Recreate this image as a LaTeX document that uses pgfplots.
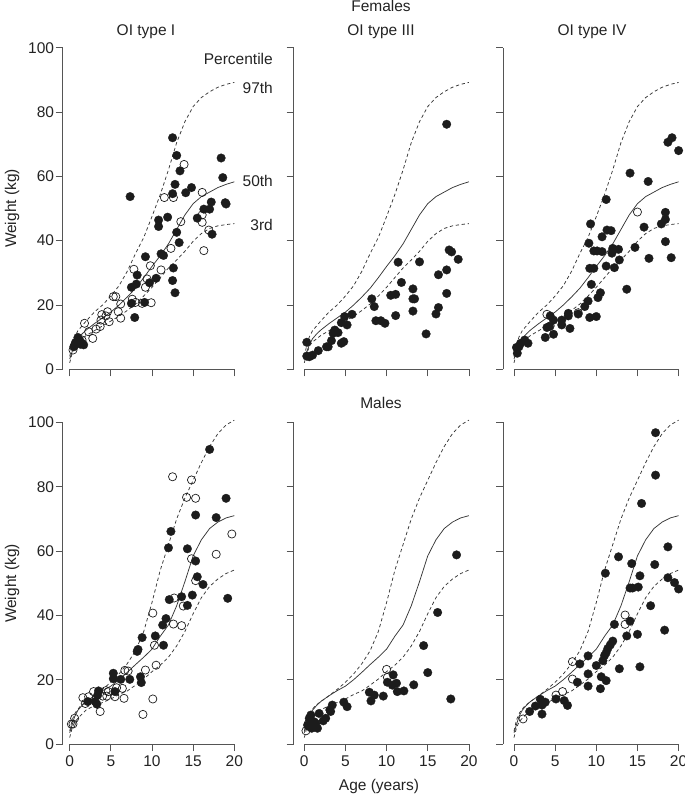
\documentclass[border=0pt]{standalone}
\usepackage{fontspec}
\setmainfont{Liberation Sans}
\usepackage{pgfplots}
\usepackage{pgfplotstable}
\pgfplotsset{compat=1.18}
\definecolor{axgray}{RGB}{85,85,85}
\definecolor{txt}{RGB}{35,35,35}
\definecolor{crv}{RGB}{55,55,55}
\definecolor{dot}{RGB}{28,28,28}

% ---------- reference percentile curves ----------
\pgfplotstableread{
x y
0 4
0.3 7.5
0.6 10
1 12
2 15
3 17.8
4 20
5 22.8
6 26
7 30.5
8 36
9 41
10 47.5
11 54.3
12 62
13 70.5
14 77
15 81.7
16 84.5
17 86.3
18 87.7
19 88.6
20 89.2
}\fninetyseven
\pgfplotstableread{
x y
0 3.2
0.3 5.5
0.6 7.5
1 9.5
1.5 11
2 12.2
3 14.2
4 16
5 17.8
6 20
7 22.5
8 25.2
9 28.5
10 32
11 35.3
12 39
13 43.5
14 48
15 51.5
16 53.7
17 55.1
18 56.5
19 57.5
20 58.3
}\ffifty
\pgfplotstableread{
x y
0 2
0.3 5
0.7 7.5
1 8.5
2 10.5
3 12
4 13.5
5 15
6 16.5
7 18.3
8 20.3
9 22.8
10 25.5
11 28.5
12 31.5
13 34
14 36.7
15 39.8
16 42.2
17 43.8
18 44.6
19 45
20 45.3
}\fthree
\pgfplotstableread{
x y
0 4
0.3 7.5
0.7 9.8
1.3 11.8
2 13.2
3 15
4 17
5 19.2
6 21.8
7 25
8 29
9 35
10 44
11 54
12 62
13 70
14 76.5
15 82
16 87.5
17 92.5
18 96.5
19 99.2
20 100.7
}\mninetyseven
\pgfplotstableread{
x y
0 3.5
0.3 6
0.6 8.5
1 10.5
1.5 12
2 13.2
3 15
4 16.6
5 18
6 20
7 22.3
8 24.7
9 27
10 29.5
11 33.5
12 37
13 43
14 50.5
15 58.5
16 63.5
17 67
18 69
19 70.3
20 71
}\mfifty
\pgfplotstableread{
x y
0 2
0.3 5
0.6 6.8
1 8
2 10.6
3 11.9
4 12.9
5 14
6 15.4
7 16.5
8 18.3
9 20.2
10 22.5
11 24.5
12 27
13 30.5
14 35
15 40.5
16 45.5
17 49
18 51.3
19 53
20 54.1
}\mthree

\pgfplotsset{
  oi/.style={
    scale only axis, height=321.6pt,
    ymin=0, ymax=100, xmax=20,
    axis x line*=bottom, axis y line*=left,
    axis line style={-},
    x axis line style={draw=none},
    y axis line style={axgray, line width=0.7pt},
    tick align=outside, major tick length=7pt,
    xtick={0,5,...,20}, ytick={0,20,...,100},
    tick style={axgray, line width=0.7pt},
    ticklabel style={font=\fontsize{15.5}{18}\selectfont, text=txt},
    yticklabel style={inner sep=1.5pt},
    xticklabel style={inner sep=1.5pt, yshift=-3pt},
    /pgf/number format/assume math mode=true,
    clip=false,
  },
  colL/.style={oi, xmin=-0.85, width=171.6pt},
  colM/.style={oi, xmin=-1.3, width=175.3pt, yticklabels={}},
  colR/.style={oi, xmin=-1.3, width=175.3pt, yticklabels={}},
  toprow/.style={xticklabels={}},
  p97/.style={crv, line width=0.75pt, dash pattern=on 3.3pt off 2.7pt},
  p50/.style={crv, line width=0.75pt},
  p3/.style={crv, line width=0.75pt, dash pattern=on 3.3pt off 2.7pt},
  fil/.style={only marks, mark=*, mark size=4.3pt, mark options={fill=dot, draw=dot, line width=0.3pt}},
  opn/.style={only marks, mark=o, mark size=4.1pt, mark options={draw=dot, line width=0.7pt}},
}

\newcommand{\xaxisline}{\draw[axgray, line width=0.7pt] (axis cs:0,0) -- (axis cs:20,0);}
\newcommand{\fcurves}{%
  \addplot[p97] table {\fninetyseven};
  \addplot[p50] table {\ffifty};
  \addplot[p3] table {\fthree};}
\newcommand{\mcurves}{%
  \addplot[p97] table {\mninetyseven};
  \addplot[p50] table {\mfifty};
  \addplot[p3] table {\mthree};}

\begin{document}
\begin{tikzpicture}
\useasboundingbox (0pt,0pt) rectangle (685pt,795pt);

% ================= FEMALES =================
% OI type I
\begin{axis}[colL, toprow, at={(62.7pt,425.7pt)}, anchor=south west]
\xaxisline
\fcurves
\addplot[fil] coordinates {
(7.34,53.7) (12.5,72.0) (13.0,66.5) (13.4,61.7) (12.8,57.5) (12.5,54.6) (14.1,54.9) (14.8,56.5)
(10.8,46.4) (10.8,44.4) (11.9,47.3) (13.0,42.6) (13.3,39.4) (11.1,35.9) (11.4,35.4) (9.2,35.0)
(12.6,31.5) (12.5,27.6) (12.8,23.8) (10.5,28.3) (9.7,26.9) (8.2,29.3) (8.1,26.5) (7.5,25.5)
(7.5,20.5) (9.1,20.8) (7.9,16.1) (15.5,47.0) (16.3,49.8) (17.0,49.8) (17.2,52.0) (17.3,42.0)
(18.4,65.7) (18.6,59.6) (18.9,51.8) (19.0,51.4) (0.5,7) (0.85,8.1) (1.2,9.1) (1.5,8.1)
(1.7,7.6) (0.7,8.3) (1.0,9.9) (0.6,7.5) (1.3,7.8)};
\addplot[opn] coordinates {
(13.9,63.7) (11.5,53.4) (12.6,53.4) (13.5,45.9) (12.3,37.6) (11.1,30.9) (9.8,32.2) (9.4,28.1)
(9.2,25.5) (9.9,20.7) (8.8,20.5) (8.0,20.8) (7.8,31.1) (7.6,21.8) (6.2,20.3) (6.2,15.9)
(5.9,17.9) (5.3,22.6) (5.6,22.6) (4.6,17.9) (4.8,14.8) (4.4,16.6) (3.9,17.0) (3.8,15.3)
(3.7,13.3) (2.8,9.6) (2.3,11.7) (1.8,14.3) (1.5,9.1) (0.4,6.0) (16.1,55.0) (16.1,48.0)
(16.1,45.7) (16.3,36.9) (16.9,43.3) (3.2,12.5) (1.0,8.5)};
\end{axis}

% OI type III
\begin{axis}[colM, toprow, at={(293.6pt,425.7pt)}, anchor=south west]
\xaxisline
\fcurves
\addplot[fil] coordinates {
(0.3,8.4) (0.3,4.1) (1.0,4.4) (0.6,3.9) (1.7,5.8) (2.7,7.0) (2.9,7.0) (3.3,8.9) (3.5,11.2)
(3.7,12.2) (4.1,11.4) (4.5,8.1) (4.8,8.6) (4.5,14.5) (4.9,16.4) (5.2,13.8) (5.8,17.1)
(8.2,21.9) (8.5,19.5) (8.7,15.1) (9.3,15.1) (9.8,14.3) (10.5,23.0) (11.1,23.3) (11.1,16.7)
(11.4,33.3) (11.8,27.0) (13.2,25.0) (13.2,21.9) (13.4,21.9) (13.2,18.1) (14.0,33.4)
(14.8,11.0) (16.0,17.2) (16.3,19.2) (16.3,29.4) (17.3,30.9) (17.3,23.6) (17.3,76.2)
(17.6,37.1) (17.9,36.5) (18.7,34.2)};
\end{axis}

% OI type IV
\begin{axis}[colR, toprow, at={(503.3pt,425.7pt)}, anchor=south west]
\xaxisline
\fcurves
\addplot[fil] coordinates {
(0.3,6.8) (0.4,5.0) (0.6,7.0) (0.8,8.1) (1.3,9.1) (1.7,8.1) (3.8,9.9) (4.0,13.0) (4.3,13.3)
(4.4,16.6) (4.8,15.3) (4.8,10.9) (5.8,15.3) (5.8,13.8) (6.6,17.4) (6.6,16.6) (6.8,12.7)
(7.8,17.2) (8.6,19.5) (9.0,21.2) (9.2,16.1) (10.0,16.4) (9.1,39.2) (9.3,45.2) (9.7,36.8)
(10.1,36.8) (9.2,31.4) (9.7,31.4) (9.4,26.4) (10.2,22.3) (10.5,23.8) (10.7,36.6) (10.7,41.2)
(11.2,52.8) (11.3,43.3) (11.8,43.1) (11.2,32.1) (11.9,36.1) (12.0,37.6) (12.7,37.3)
(12.2,31.6) (12.8,34.0) (13.7,24.9) (14.1,61.0) (14.7,37.9) (15.8,44.2) (16.3,58.4)
(16.4,34.5) (17.9,45.2) (18.4,48.8) (18.4,46.6) (18.4,39.7) (19.1,34.7) (18.7,70.6)
(19.2,72.0) (20.0,68.0)};
\addplot[opn] coordinates {(4.0,17.1) (4.4,13.5) (7.8,17.6) (15.0,48.9)};
\end{axis}

% ================= MALES =================
% OI type I
\begin{axis}[colL, at={(62.7pt,51pt)}, anchor=south west]
\xaxisline
\mcurves
\addplot[fil] coordinates {
(17.0,91.6) (19.0,76.4) (17.8,70.4) (15.3,71.2) (12.3,66.1) (12.0,61.0) (14.3,60.7)
(15.3,56.9) (15.5,52.0) (16.2,49.6) (14.9,46.3) (13.6,45.8) (12.1,44.9) (14.3,43.1)
(19.2,45.3) (11.7,39.0) (11.3,37.0) (10.4,33.6) (11.4,30.7) (8.8,33.1) (8.3,29.4) (8.2,28.8)
(8.6,20.9) (8.7,19.1) (7.3,20.1) (6.2,20.1) (5.3,22.0) (5.3,20.3) (5.5,16.3) (3.5,16.5)
(3.4,15.2) (3.1,13.2) (3.3,12.4) (2.2,13.2)};
\addplot[opn] coordinates {
(12.5,83.1) (14.8,82.1) (14.2,76.7) (15.3,76.4) (19.7,65.3) (17.8,59.0) (14.8,57.6)
(15.3,50.8) (12.7,45.4) (13.8,42.9) (12.6,37.3) (13.6,36.8) (10.1,40.7) (10.3,30.7)
(10.5,24.5) (9.2,23.0) (10.1,14.0) (8.9,9.2) (6.7,22.9) (7.1,22.7) (6.6,14.2) (6.4,17.3)
(5.7,17.5) (5.5,14.7) (4.7,16.3) (4.4,16.6) (4.5,14.9) (4.0,14.9) (3.7,10.1) (2.9,16.3)
(2.3,14.7) (1.6,14.4) (1.9,12.6) (0.6,8.0) (0.2,6.2) (0.4,6.2)};
\end{axis}

% OI type III
\begin{axis}[colM, at={(293.6pt,51pt)}, anchor=south west]
\xaxisline
\mcurves
\addplot[fil] coordinates {
(18.5,58.8) (16.2,40.9) (14.5,30.6) (15.0,22.2) (17.8,14.0) (13.3,18.4) (12.1,16.5)
(11.3,16.3) (11.2,18.9) (10.8,21.5) (10.7,18.3) (10.1,19.2) (9.6,14.9) (8.5,15.2) (7.9,16.1)
(8.1,13.4) (4.8,13.0) (5.2,11.6) (3.4,12.1) (3.2,10.1) (3.1,10.6) (2.6,8.0) (2.3,7.2)
(1.8,9.5) (1.6,4.9) (1.2,6.9) (1.0,6.4) (0.8,9.0) (0.6,8.0) (0.6,5.4) (1.4,6.4) (0.9,4.9)
(0.4,5.9)};
\addplot[opn] coordinates {(10.0,23.2) (10.1,20.7) (0.2,4.1) (0.5,6.4)};
\end{axis}

% OI type IV
\begin{axis}[colR, at={(503.3pt,51pt)}, anchor=south west]
\xaxisline
\mcurves
\addplot[fil] coordinates {
(17.2,96.8) (17.2,83.6) (15.5,74.8) (18.7,61.3) (12.7,58.2) (14.3,56.1) (17.1,55.8)
(11.1,53.1) (15.3,52.3) (18.7,51.7) (19.5,50.2) (20.0,48.2) (14.1,48.5) (14.4,48.5)
(15.1,48.8) (16.6,43.0) (18.3,35.4) (14.1,38.2) (12.2,37.2) (13.7,33.6) (15.0,34.1)
(12.0,32.0) (11.7,30.8) (11.4,29.7) (11.2,28.4) (11.0,27.5) (10.8,25.9) (10.0,24.4)
(9.0,27.4) (12.8,23.4) (15.3,24.0) (8.0,24.9) (9.0,21.8) (10.6,20.9) (11.2,19.7) (9.0,18.0)
(10.5,17.2) (7.7,19.2) (5.1,14.0) (6.1,13.5) (6.5,12.0) (3.2,13.9) (3.6,12.8) (3.8,13.0)
(3.4,12.1) (3.4,9.3) (2.6,11.8) (1.9,10.1)};
\addplot[opn] coordinates {(13.5,40.1) (13.5,37.2) (7.1,25.6) (7.1,20.2) (5.1,15.2) (5.9,16.3) (1.1,7.8)};
\end{axis}

% ================= TEXT =================
\begin{scope}[every node/.style={text=txt, font=\fontsize{15.5}{18}\selectfont, inner sep=0pt}]
\node[anchor=base] at (381pt,783pt) {Females};
\node[anchor=base] at (146pt,759pt) {OI type I};
\node[anchor=base] at (381pt,759pt) {OI type III};
\node[anchor=base] at (592pt,759pt) {OI type IV};
\node[anchor=base] at (381pt,386.7pt) {Males};
\node[anchor=base] at (379pt,5pt) {Age (years)};
\node[rotate=90] at (12pt,586.5pt) {Weight (kg)};
\node[rotate=90] at (12pt,211.5pt) {Weight (kg)};
\node[anchor=base east] at (273pt,730pt) {Percentile};
\node[anchor=base east] at (273pt,701.7pt) {97th};
\node[anchor=base east] at (273pt,608.3pt) {50th};
\node[anchor=base east] at (273pt,564.3pt) {3rd};
\end{scope}
\end{tikzpicture}
\end{document}
